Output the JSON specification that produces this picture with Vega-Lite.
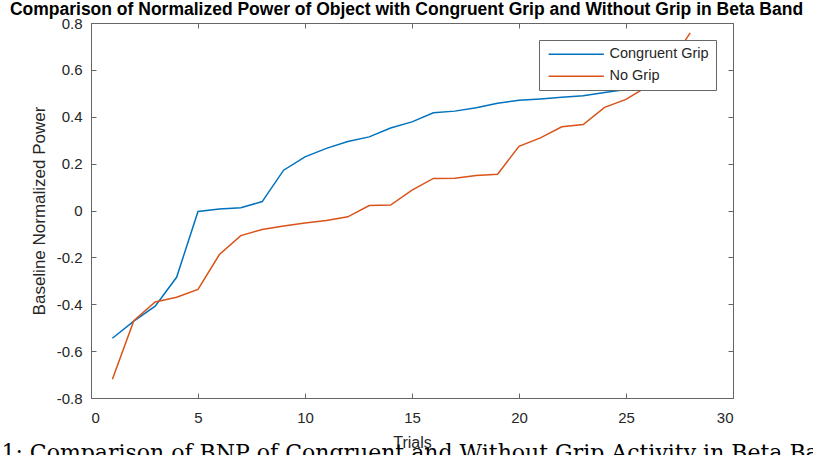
{
  "$schema": "https://vega.github.io/schema/vega-lite/v6.json",
  "width": 642,
  "height": 375,
  "autosize": {"type": "none"},
  "padding": {"left": 91, "top": 23, "right": 80, "bottom": 57},
  "background": "white",
  "title": {
    "text": "1: Comparison of BNP of Congruent and Without Grip Activity in Beta Band",
    "orient": "bottom",
    "anchor": "start",
    "font": "DejaVu Serif",
    "fontSize": 22,
    "fontWeight": "normal",
    "color": "black",
    "dx": -8,
    "offset": -7
  },
  "config": {
    "view": {"stroke": null},
    "axis": {
      "domainColor": "#666666",
      "tickColor": "#666666",
      "labelColor": "#262626",
      "titleColor": "#262626",
      "labelFont": "Liberation Sans",
      "titleFont": "Liberation Sans",
      "labelFontSize": 15,
      "titleFontSize": 16,
      "titleFontWeight": "normal",
      "grid": false,
      "tickSize": -5,
      "domainWidth": 1
    }
  },
  "data": {
    "values": [
      {"trial": 1, "series": "Congruent Grip", "value": -0.545},
      {"trial": 2, "series": "Congruent Grip", "value": -0.472},
      {"trial": 3, "series": "Congruent Grip", "value": -0.408},
      {"trial": 4, "series": "Congruent Grip", "value": -0.285},
      {"trial": 5, "series": "Congruent Grip", "value": -0.004},
      {"trial": 6, "series": "Congruent Grip", "value": 0.006},
      {"trial": 7, "series": "Congruent Grip", "value": 0.012},
      {"trial": 8, "series": "Congruent Grip", "value": 0.038},
      {"trial": 9, "series": "Congruent Grip", "value": 0.172},
      {"trial": 10, "series": "Congruent Grip", "value": 0.229},
      {"trial": 11, "series": "Congruent Grip", "value": 0.265},
      {"trial": 12, "series": "Congruent Grip", "value": 0.294},
      {"trial": 13, "series": "Congruent Grip", "value": 0.314},
      {"trial": 14, "series": "Congruent Grip", "value": 0.352},
      {"trial": 15, "series": "Congruent Grip", "value": 0.378},
      {"trial": 16, "series": "Congruent Grip", "value": 0.417},
      {"trial": 17, "series": "Congruent Grip", "value": 0.424},
      {"trial": 18, "series": "Congruent Grip", "value": 0.438},
      {"trial": 19, "series": "Congruent Grip", "value": 0.458},
      {"trial": 20, "series": "Congruent Grip", "value": 0.47},
      {"trial": 21, "series": "Congruent Grip", "value": 0.476},
      {"trial": 22, "series": "Congruent Grip", "value": 0.483},
      {"trial": 23, "series": "Congruent Grip", "value": 0.49},
      {"trial": 24, "series": "Congruent Grip", "value": 0.503},
      {"trial": 25, "series": "Congruent Grip", "value": 0.516},
      {"trial": 26, "series": "Congruent Grip", "value": 0.53},
      {"trial": 27, "series": "Congruent Grip", "value": 0.55},
      {"trial": 28, "series": "Congruent Grip", "value": 0.58},
      {"trial": 1, "series": "No Grip", "value": -0.72},
      {"trial": 2, "series": "No Grip", "value": -0.47},
      {"trial": 3, "series": "No Grip", "value": -0.39},
      {"trial": 4, "series": "No Grip", "value": -0.37},
      {"trial": 5, "series": "No Grip", "value": -0.337},
      {"trial": 6, "series": "No Grip", "value": -0.188},
      {"trial": 7, "series": "No Grip", "value": -0.107},
      {"trial": 8, "series": "No Grip", "value": -0.081},
      {"trial": 9, "series": "No Grip", "value": -0.066},
      {"trial": 10, "series": "No Grip", "value": -0.053},
      {"trial": 11, "series": "No Grip", "value": -0.043},
      {"trial": 12, "series": "No Grip", "value": -0.027},
      {"trial": 13, "series": "No Grip", "value": 0.021},
      {"trial": 14, "series": "No Grip", "value": 0.023},
      {"trial": 15, "series": "No Grip", "value": 0.087},
      {"trial": 16, "series": "No Grip", "value": 0.137},
      {"trial": 17, "series": "No Grip", "value": 0.138},
      {"trial": 18, "series": "No Grip", "value": 0.149},
      {"trial": 19, "series": "No Grip", "value": 0.155},
      {"trial": 20, "series": "No Grip", "value": 0.274},
      {"trial": 21, "series": "No Grip", "value": 0.31},
      {"trial": 22, "series": "No Grip", "value": 0.357},
      {"trial": 23, "series": "No Grip", "value": 0.367},
      {"trial": 24, "series": "No Grip", "value": 0.44},
      {"trial": 25, "series": "No Grip", "value": 0.474},
      {"trial": 26, "series": "No Grip", "value": 0.53},
      {"trial": 27, "series": "No Grip", "value": 0.62},
      {"trial": 28, "series": "No Grip", "value": 0.758}
    ]
  },
  "layer": [
    {
      "mark": {"type": "line", "strokeWidth": 1.5},
      "encoding": {
        "x": {
          "field": "trial",
          "type": "quantitative",
          "scale": {"domain": [0, 30], "nice": false},
          "axis": {
            "orient": "bottom",
            "values": [0, 5, 10, 15, 20, 25, 30],
            "title": "Trials",
            "labelPadding": 17,
            "titlePadding": 9
          }
        },
        "y": {
          "field": "value",
          "type": "quantitative",
          "scale": {"domain": [-0.8, 0.8], "nice": false},
          "axis": {
            "orient": "left",
            "values": [-0.8, -0.6, -0.4, -0.2, 0, 0.2, 0.4, 0.6, 0.8],
            "labelExpr": "datum.value == 0 ? '0' : (datum.value < 0 ? '-' : '') + format(abs(datum.value), '.1f')",
            "title": "Baseline Normalized Power",
            "titleFontSize": 17,
            "labelPadding": 14,
            "titlePadding": 8
          }
        },
        "color": {
          "field": "series",
          "type": "nominal",
          "scale": {"domain": ["Congruent Grip", "No Grip"], "range": ["#0072BD", "#D95319"]},
          "legend": {
            "title": null,
            "orient": "top-right",
            "offset": 17,
            "symbolType": "M-6,0H6",
            "symbolSize": 85,
            "symbolStrokeWidth": 1.5,
            "symbolOffset": 23,
            "labelOffset": 26,
            "labelFont": "Liberation Sans",
            "labelFontSize": 14.5,
            "labelColor": "#262626",
            "fillColor": "white",
            "strokeColor": "#666666",
            "padding": 7,
            "rowPadding": 7
          }
        }
      }
    },
    {
      "mark": {"type": "line", "opacity": 0},
      "encoding": {
        "x": {
          "field": "trial",
          "type": "quantitative",
          "scale": {"domain": [0, 30], "nice": false},
          "axis": {
            "orient": "top",
            "values": [0, 5, 10, 15, 20, 25, 30],
            "labels": false,
            "title": "Comparison of Normalized Power of Object with Congruent Grip and Without Grip in Beta Band",
            "titleFontWeight": "bold",
            "titleFontSize": 17.5,
            "titleColor": "black",
            "titlePadding": 4,
            "titleX": 315
          }
        },
        "y": {
          "field": "value",
          "type": "quantitative",
          "scale": {"domain": [-0.8, 0.8], "nice": false},
          "axis": {
            "orient": "right",
            "values": [-0.8, -0.6, -0.4, -0.2, 0, 0.2, 0.4, 0.6, 0.8],
            "labels": false,
            "title": null
          }
        },
        "detail": {"field": "series", "type": "nominal"}
      }
    }
  ],
  "resolve": {"axis": {"x": "independent", "y": "independent"}}
}
